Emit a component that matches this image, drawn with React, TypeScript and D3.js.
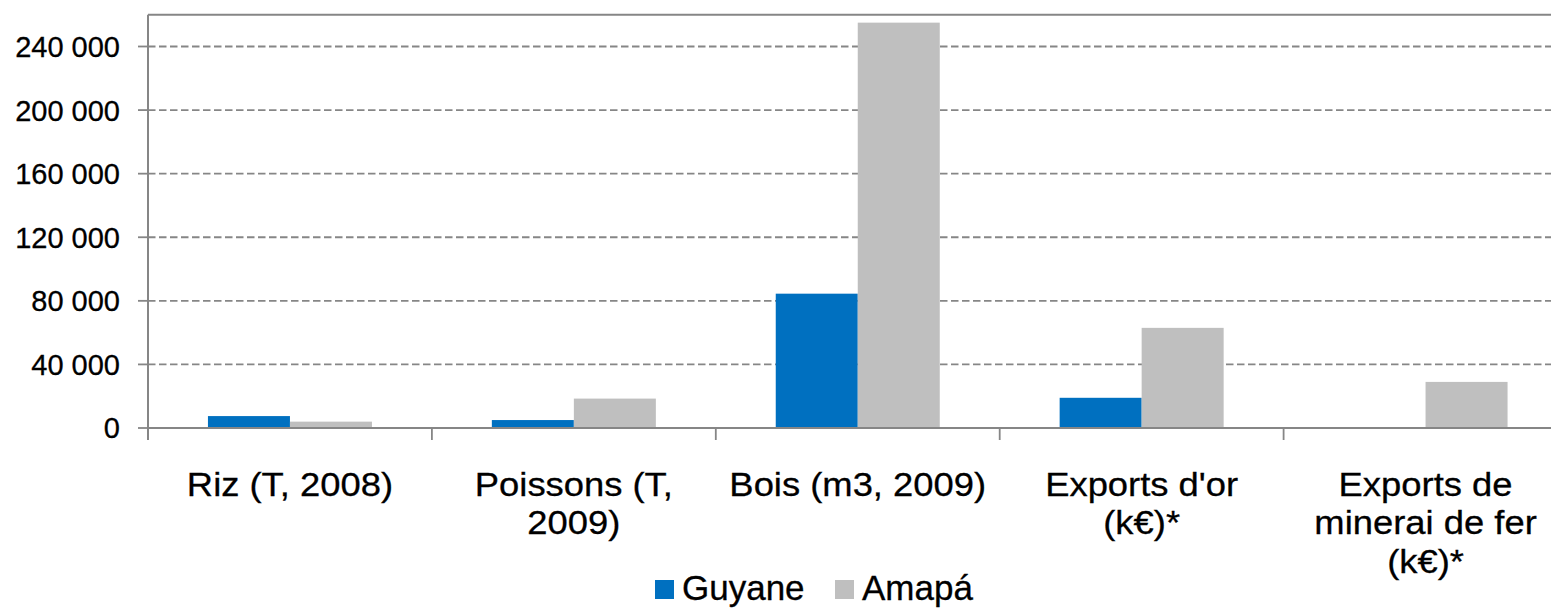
import React from 'react';
import * as d3 from 'd3';

// categories (line breaks as in the original labels)
const categories = [
  'Riz (T, 2008)',
  'Poissons (T,\n2009)',
  'Bois (m3, 2009)',
  "Exports d'or\n(k€)*",
  'Exports de\nminerai de fer\n(k€)*',
];
const seriesNames = ['Guyane', 'Amapá'];
const guyane = [7500, 5000, 84500, 19000, 0];
const amapa = [4000, 18500, 255000, 63000, 29000];
const yTicks = [0, 40000, 80000, 120000, 160000, 200000, 240000];

const colors = ['#0070C0', '#BFBFBF'];
const axisColor = '#868686';
const font = '"Liberation Sans", Arial, sans-serif';

const W = 1551;
const H = 609;
const margin = { left: 148, top: 14.7, right: -16.5, bottom: 181 };

const fmt = d3.formatLocale({ thousands: ' ', grouping: [3], decimal: ',', currency: ['', ' €'] }).format(',d');

export default function App() {
  const x = d3
    .scaleBand<string>()
    .domain(categories)
    .range([margin.left, W - margin.right])
    .padding(0);
  const inner = d3
    .scaleBand<string>()
    .domain(seriesNames)
    .range([0, x.bandwidth()])
    .paddingInner(0)
    .paddingOuter(0.731);
  const y = d3
    .scaleLinear()
    .domain([0, 260000])
    .range([H - margin.bottom, margin.top]);

  const rows = categories.map((c, i) => ({ c, vals: [guyane[i], amapa[i]] }));
  const y0 = y(0);
  const boundaries = categories.map((c) => x(c)!).concat([x(categories[categories.length - 1])! + x.bandwidth()]);

  return (
    <div style={{ position: 'absolute', left: 0, top: 0 }}>
      <svg width={W} height={H} style={{ display: 'block', background: '#fff' }}>
        {/* gridlines */}
        {yTicks
          .filter((t) => t > 0)
          .map((t) => (
            <line
              key={'g' + t}
              x1={margin.left}
              x2={W}
              y1={y(t)}
              y2={y(t)}
              stroke={axisColor}
              strokeWidth={1.8}
              strokeDasharray="7.5 3.5"
            />
          ))}
        {/* top frame */}
        <line x1={margin.left} x2={W} y1={margin.top} y2={margin.top} stroke={axisColor} strokeWidth={2} />

        {/* bars */}
        {rows.map((r) => (
          <g key={r.c} transform={`translate(${x(r.c)},0)`}>
            {r.vals.map((v, j) =>
              v > 0 ? (
                <rect
                  key={j}
                  x={inner(seriesNames[j])}
                  y={y(v)}
                  width={inner.bandwidth()}
                  height={y0 - y(v)}
                  fill={colors[j]}
                />
              ) : null
            )}
          </g>
        ))}

        {/* y axis */}
        <line x1={margin.left} x2={margin.left} y1={margin.top} y2={y0 + 12} stroke={axisColor} strokeWidth={2} />
        {yTicks.map((t) => (
          <g key={'t' + t}>
            <line x1={margin.left - 10} x2={margin.left} y1={y(t)} y2={y(t)} stroke={axisColor} strokeWidth={1.8} />
            <text
              x={120}
              y={y(t)}
              dy="0.36em"
              textAnchor="end"
              fontFamily={font}
              fontSize={29}
              fill="#000"
              stroke="#000"
              strokeWidth={0.3}
            >
              {fmt(t)}
            </text>
          </g>
        ))}

        {/* x axis */}
        <line x1={margin.left} x2={W} y1={y0} y2={y0} stroke={axisColor} strokeWidth={2} />
        {boundaries.map((b, i) => (
          <line key={'xt' + i} x1={b} x2={b} y1={y0} y2={y0 + 12} stroke={axisColor} strokeWidth={1.8} />
        ))}
        {categories.map((c) => (
          <g key={'l' + c} transform={`translate(${x(c)! + x.bandwidth() / 2},496) scale(1.07,1)`}>
            <text
              textAnchor="middle"
              fontFamily={font}
              fontSize={34}
              fill="#000"
              stroke="#000"
              strokeWidth={0.3}
            >
              {c.split('\n').map((line, k) => (
                <tspan key={k} x={0} y={k * 38.5}>
                  {line}
                </tspan>
              ))}
            </text>
          </g>
        ))}

        {/* legend */}
        {seriesNames.map((s, j) => {
          const lx = j === 0 ? 655 : 835;
          return (
            <g key={'lg' + s}>
              <rect x={lx} y={580} width={19} height={19} fill={colors[j]} />
              <text
                x={lx + 27}
                y={600}
                fontFamily={font}
                fontSize={35}
                fill="#000"
                stroke="#000"
                strokeWidth={0.3}
              >
                {s}
              </text>
            </g>
          );
        })}
      </svg>
    </div>
  );
}
